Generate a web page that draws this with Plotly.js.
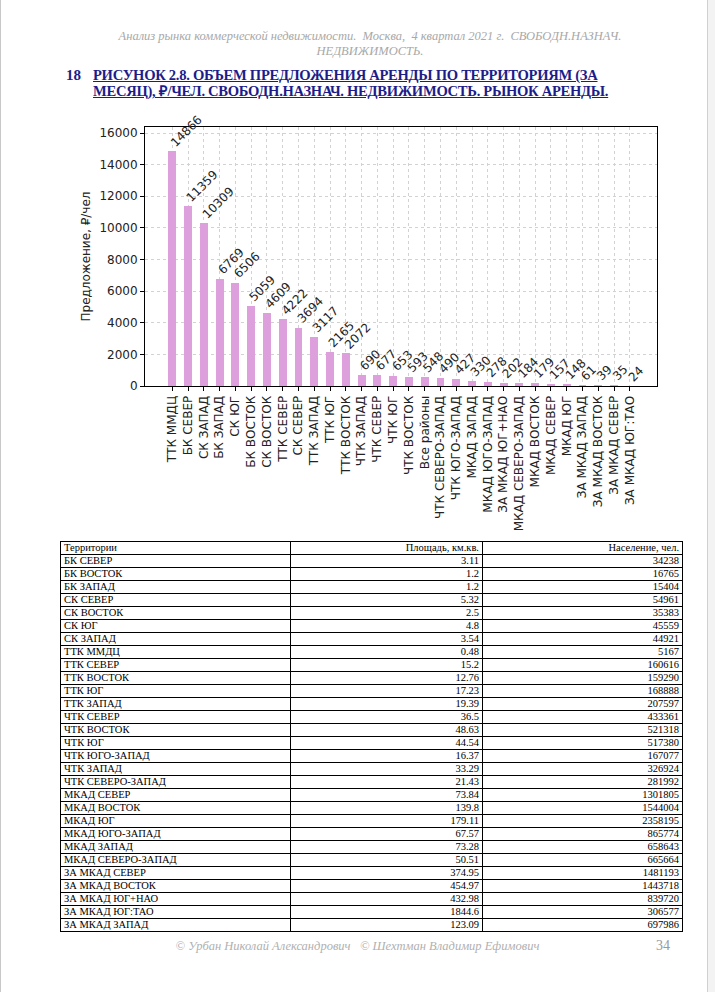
<!DOCTYPE html>
<html>
<head>
<meta charset="utf-8">
<script src="https://cdn.plot.ly/plotly-3.0.1.min.js"></script>
<style>
  html, body { margin:0; padding:0; background:#fff; }
  body { width:715px; height:992px; position:relative; overflow:hidden; }
  #leftline { position:absolute; left:0; top:0; width:1px; height:992px; background:#c8c8c8; }
  #rightband { position:absolute; left:707px; top:0; width:8px; height:992px; background:#f3f3f3; border-left:1px solid #d0d0d0; }
  .hdr { position:absolute; left:0; width:740px; text-align:center; font-family:"Liberation Serif", serif; font-style:italic; color:#a8a8a8; font-size:12.5px; }
  #num { position:absolute; left:66px; top:67px; font-family:"Liberation Serif", serif; font-weight:bold; color:#1d1d8a; font-size:15px; }
  #title { position:absolute; left:93px; top:67px; font-family:"Liberation Serif", serif; font-weight:bold; color:#1d1d8a; font-size:14.6px; line-height:16px; text-decoration:underline; letter-spacing:-0.3px; }
  #chart { position:absolute; left:0; top:110px; width:715px; height:430px; }
  #tbl { position:absolute; left:60px; top:541px; border-collapse:collapse; table-layout:fixed; font-family:"Liberation Serif", serif; font-size:10.5px; color:#000; }
  #tbl td { border:1px solid #000; height:12px; line-height:12px; padding:0 3px; white-space:nowrap; overflow:hidden; }
  #tbl td.r { text-align:right; }
  #footer { position:absolute; left:0; width:715px; top:939px; text-align:center; font-family:"Liberation Serif", serif; font-style:italic; color:#b0b0b0; font-size:12.5px; }
  #page { position:absolute; left:656px; top:938px; font-family:"Liberation Serif", serif; color:#9a9a9a; font-size:14px; }
</style>
</head>
<body>
<div id="leftline"></div>
<div id="rightband"></div>
<div class="hdr" style="top:29px;">Анализ рынка коммерческой недвижимости.&nbsp; Москва,&nbsp; 4 квартал 2021 г.&nbsp; СВОБОДН.НАЗНАЧ.</div>
<div class="hdr" style="top:44px;">НЕДВИЖИМОСТЬ.</div>
<div id="num">18</div>
<div id="title">РИСУНОК 2.8. ОБЪЕМ ПРЕДЛОЖЕНИЯ АРЕНДЫ ПО ТЕРРИТОРИЯМ (ЗА<br>МЕСЯЦ), ₽/ЧЕЛ. СВОБОДН.НАЗНАЧ. НЕДВИЖИМОСТЬ. РЫНОК АРЕНДЫ.</div>
<div id="chart"></div>
<table id="tbl"><colgroup><col style="width:230px"><col style="width:192px"><col style="width:200px"></colgroup><tbody id="tb"></tbody></table>
<div id="footer">© Урбан Николай Александрович&nbsp;&nbsp; © Шехтман Владимир Ефимович</div>
<div id="page">34</div>
<script>
// ---- chart data ----
const categories = ["ТТК ММДЦ","БК СЕВЕР","СК ЗАПАД","БК ЗАПАД","СК ЮГ","БК ВОСТОК","СК ВОСТОК","ТТК СЕВЕР","СК СЕВЕР","ТТК ЗАПАД","ТТК ЮГ","ТТК ВОСТОК","ЧТК ЗАПАД","ЧТК СЕВЕР","ЧТК ЮГ","ЧТК ВОСТОК","Все районы","ЧТК СЕВЕРО-ЗАПАД","ЧТК ЮГО-ЗАПАД","МКАД ЗАПАД","МКАД ЮГО-ЗАПАД","ЗА МКАД ЮГ+НАО","МКАД СЕВЕРО-ЗАПАД","МКАД ВОСТОК","МКАД СЕВЕР","МКАД ЮГ","ЗА МКАД ЗАПАД","ЗА МКАД ВОСТОК","ЗА МКАД СЕВЕР","ЗА МКАД ЮГ:ТАО"];
const offerValues = [14866,11359,10309,6769,6506,5059,4609,4222,3694,3117,2165,2072,690,677,653,593,548,490,427,330,278,202,184,179,157,148,61,39,35,24];
const yTicks = [0,2000,4000,6000,8000,10000,12000,14000,16000];

// ---- table data ----
const tableHeader = ["Территории","Площадь, км.кв.","Население, чел."];
const territories = ["БК СЕВЕР","БК ВОСТОК","БК ЗАПАД","СК СЕВЕР","СК ВОСТОК","СК ЮГ","СК ЗАПАД","ТТК ММДЦ","ТТК СЕВЕР","ТТК ВОСТОК","ТТК ЮГ","ТТК ЗАПАД","ЧТК СЕВЕР","ЧТК ВОСТОК","ЧТК ЮГ","ЧТК ЮГО-ЗАПАД","ЧТК ЗАПАД","ЧТК СЕВЕРО-ЗАПАД","МКАД СЕВЕР","МКАД ВОСТОК","МКАД ЮГ","МКАД ЮГО-ЗАПАД","МКАД ЗАПАД","МКАД СЕВЕРО-ЗАПАД","ЗА МКАД СЕВЕР","ЗА МКАД ВОСТОК","ЗА МКАД ЮГ+НАО","ЗА МКАД ЮГ:ТАО","ЗА МКАД ЗАПАД"];
const areas = [3.11,1.2,1.2,5.32,2.5,4.8,3.54,0.48,15.2,12.76,17.23,19.39,36.5,48.63,44.54,16.37,33.29,21.43,73.84,139.8,179.11,67.57,73.28,50.51,374.95,454.97,432.98,1844.6,123.09];
const population = [34238,16765,15404,54961,35383,45559,44921,5167,160616,159290,168888,207597,433361,521318,517380,167077,326924,281992,1301805,1544004,2358195,865774,658643,665664,1481193,1443718,839720,306577,697986];

// build table
const tb = document.getElementById('tb');
function addRow(a,b,c){
  const tr = document.createElement('tr');
  [[a,''],[b,'r'],[c,'r']].forEach(([t,cls])=>{ const td=document.createElement('td'); td.textContent=t; if(cls) td.className=cls; tr.appendChild(td); });
  tb.appendChild(tr);
}
addRow(tableHeader[0], tableHeader[1], tableHeader[2]);
territories.forEach((t,i)=>addRow(t, String(areas[i]), String(population[i])));

// chart
const font = {family:"DejaVu Sans, sans-serif", size:12, color:"#222"};
const idx = categories.map((_,i)=>i);
const trace = {
  type:'bar', x: idx, y: offerValues, width:0.5,
  marker:{color:'#dda0dd', line:{width:0}},
  hoverinfo:'skip'
};
const annotations = offerValues.map((v,i)=>({
  x:i, y:v, xref:'x', yref:'y', text:String(v), showarrow:false,
  textangle:-45, xanchor:'left', yanchor:'bottom', xshift:-7, yshift:-1,
  font:{family:"DejaVu Sans, sans-serif", size:12, color:"#222"}
}));
const layout = {
  width:715, height:430,
  margin:{l:145, r:58, t:17, b:154},
  paper_bgcolor:'rgba(0,0,0,0)', plot_bgcolor:'#fff',
  showlegend:false, font:font,
  bargap:0,
  xaxis:{
    range:[-1.725, 30.725], tickmode:'array', tickvals:idx, ticktext:categories,
    tickangle:-90, ticks:'outside', ticklen:4, tickcolor:'#000',
    showline:true, linecolor:'#000', linewidth:1, mirror:true,
    showgrid:true, gridcolor:'#d2d2d2', griddash:'dot', gridwidth:1,
    zeroline:false, tickfont:font, automargin:false
  },
  yaxis:{
    range:[0,16380], tickmode:'array', tickvals:yTicks, ticktext:yTicks.map(String),
    ticks:'outside', ticklen:4, tickcolor:'#000',
    showline:true, linecolor:'#000', linewidth:1, mirror:true,
    showgrid:true, gridcolor:'#d2d2d2', griddash:'dot', gridwidth:1,
    zeroline:false, tickfont:font, automargin:false,
    title:{text:'Предложение, ₽/чел', font:font, standoff:6}
  },
  annotations: annotations
};
Plotly.newPlot('chart', [trace], layout, {staticPlot:true, displayModeBar:false});
</script>
</body>
</html>
